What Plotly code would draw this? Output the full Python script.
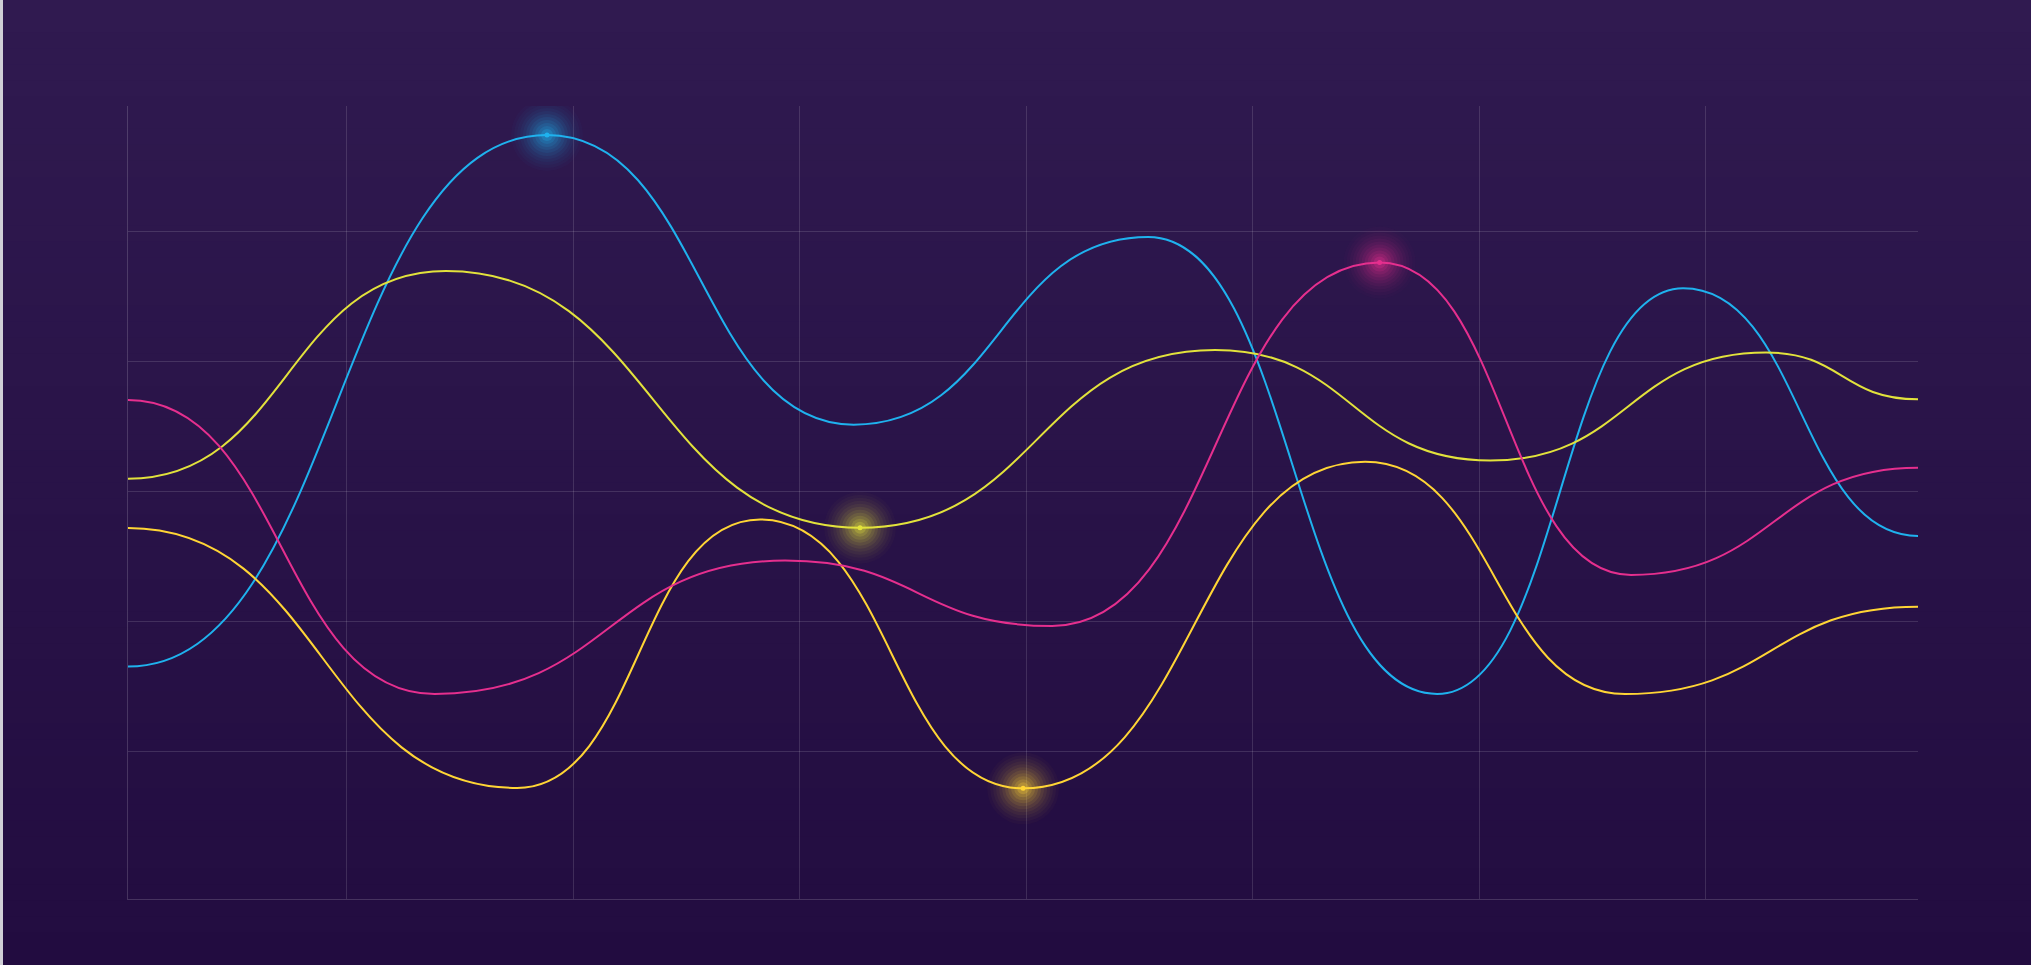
"""
Neon wave lines on a dark purple gradient
"""

import plotly.graph_objects as go

# x positions (shared axis units) and values for each series
cyan_x = [0.034, 1.884, 3.238, 4.538, 5.814, 6.900, 7.937]
cyan_y = [16.57, 57.46, 35.18, 49.62, 14.46, 45.67, 26.62]

lime_x = [0.034, 1.438, 3.266, 4.834, 6.048, 7.266, 7.937]
lime_y = [31.02, 47.0, 27.25, 40.92, 32.42, 40.73, 37.13]

gold_x = [0.034, 1.752, 2.825, 3.986, 5.496, 6.644, 7.937]
gold_y = [27.23, 7.23, 27.88, 7.2, 32.32, 14.46, 21.18]

pink_x = [0.034, 1.388, 2.935, 4.114, 5.560, 6.670, 7.937]
pink_y = [37.08, 14.46, 24.72, 19.69, 47.65, 23.62, 31.87]

# index of the highlighted (glowing) point in each series
highlight = {'cyan': 1, 'lime': 2, 'gold': 3, 'pink': 4}

x_ticks = [1, 2, 3, 4, 5, 6, 7]
y_ticks = [10, 20, 30, 40, 50]
y_range = [-1.31, 59.69]

W, H = 2031, 965
M = dict(l=128, r=113, t=106, b=66)

series = [
    ('cyan', cyan_x, cyan_y, '#1fb2ee'),
    ('lime', lime_x, lime_y, '#e2e23c'),
    ('gold', gold_x, gold_y, '#ffd535'),
    ('pink', pink_x, pink_y, '#e52f8e'),
]


def hex_rgba(h, a):
    h = h.lstrip('#')
    r, g, b = int(h[0:2], 16), int(h[2:4], 16), int(h[4:6], 16)
    return f'rgba({r},{g},{b},{a})'


def bump_path(xs, ys):
    # horizontal-tangent bezier between neighbouring points (like d3 curveBumpX)
    d = f'M {xs[0]},{ys[0]}'
    for i in range(1, len(xs)):
        xm = (xs[i - 1] + xs[i]) / 2
        d += f' C {xm},{ys[i - 1]} {xm},{ys[i]} {xs[i]},{ys[i]}'
    return d


fig = go.Figure()
shapes = []

# vertical gradient background built from thin bands
pw = W - M['l'] - M['r']
ph = H - M['t'] - M['b']
top_c = (48, 26, 80)
bot_c = (34, 12, 64)
n = 60
for k in range(n):
    t = (k + 0.5) / n
    c = tuple(round(top_c[j] + (bot_c[j] - top_c[j]) * t) for j in range(3))
    py0 = k * H / n
    py1 = (k + 1) * H / n + 1
    shapes.append(dict(
        type='rect', xref='paper', yref='paper', layer='below',
        x0=(3 - M['l']) / pw, x1=(W + 5 - M['l']) / pw,
        y0=(H - M['b'] - py1) / ph, y1=(H - M['b'] - py0) / ph,
        fillcolor=f'rgb{c}', line=dict(width=0)
    ))

# the curves, in data coordinates
for name, xs, ys, color in series:
    shapes.append(dict(
        type='path', xref='x', yref='y', layer='above',
        path=bump_path(xs, ys),
        line=dict(color=color, width=2)
    ))

# soft glow on the highlighted points (many faint rings so it blends)
glow_steps = [(s, a) for s, a in zip(range(72, 6, -6),
                                     [0.025, 0.03, 0.035, 0.045, 0.055, 0.07,
                                      0.085, 0.1, 0.13, 0.17, 0.25])]
for name, xs, ys, color in series:
    i = highlight[name]
    for size, alpha in glow_steps:
        fig.add_trace(go.Scatter(
            x=[xs[i]], y=[ys[i]], mode='markers',
            marker=dict(size=size, color=hex_rgba(color, alpha)),
            hoverinfo='skip', showlegend=False
        ))
    fig.add_trace(go.Scatter(
        x=[xs[i]], y=[ys[i]], mode='markers', name=name,
        marker=dict(size=5, color=color),
        hoverinfo='skip', showlegend=False
    ))

grid = 'rgba(255,255,255,0.13)'
fig.update_layout(
    width=W, height=H,
    margin=M,
    paper_bgcolor='#d0cfd6',
    plot_bgcolor='rgba(0,0,0,0)',
    shapes=shapes,
    xaxis=dict(
        range=[cyan_x[0], cyan_x[-1]], tickvals=x_ticks, showticklabels=False,
        showgrid=True, gridcolor=grid, gridwidth=1, zeroline=False,
        showline=True, linecolor='rgba(255,255,255,0.16)', linewidth=1,
        ticks=''
    ),
    yaxis=dict(
        range=y_range, tickvals=y_ticks, showticklabels=False,
        showgrid=True, gridcolor=grid, gridwidth=1, zeroline=False,
        showline=True, linecolor='rgba(255,255,255,0.16)', linewidth=1,
        ticks=''
    ),
)

fig.write_html(
    "out.html",
    config={'displayModeBar': False},
    post_script="document.body.style.margin='0';document.body.style.overflow='hidden';"
)
